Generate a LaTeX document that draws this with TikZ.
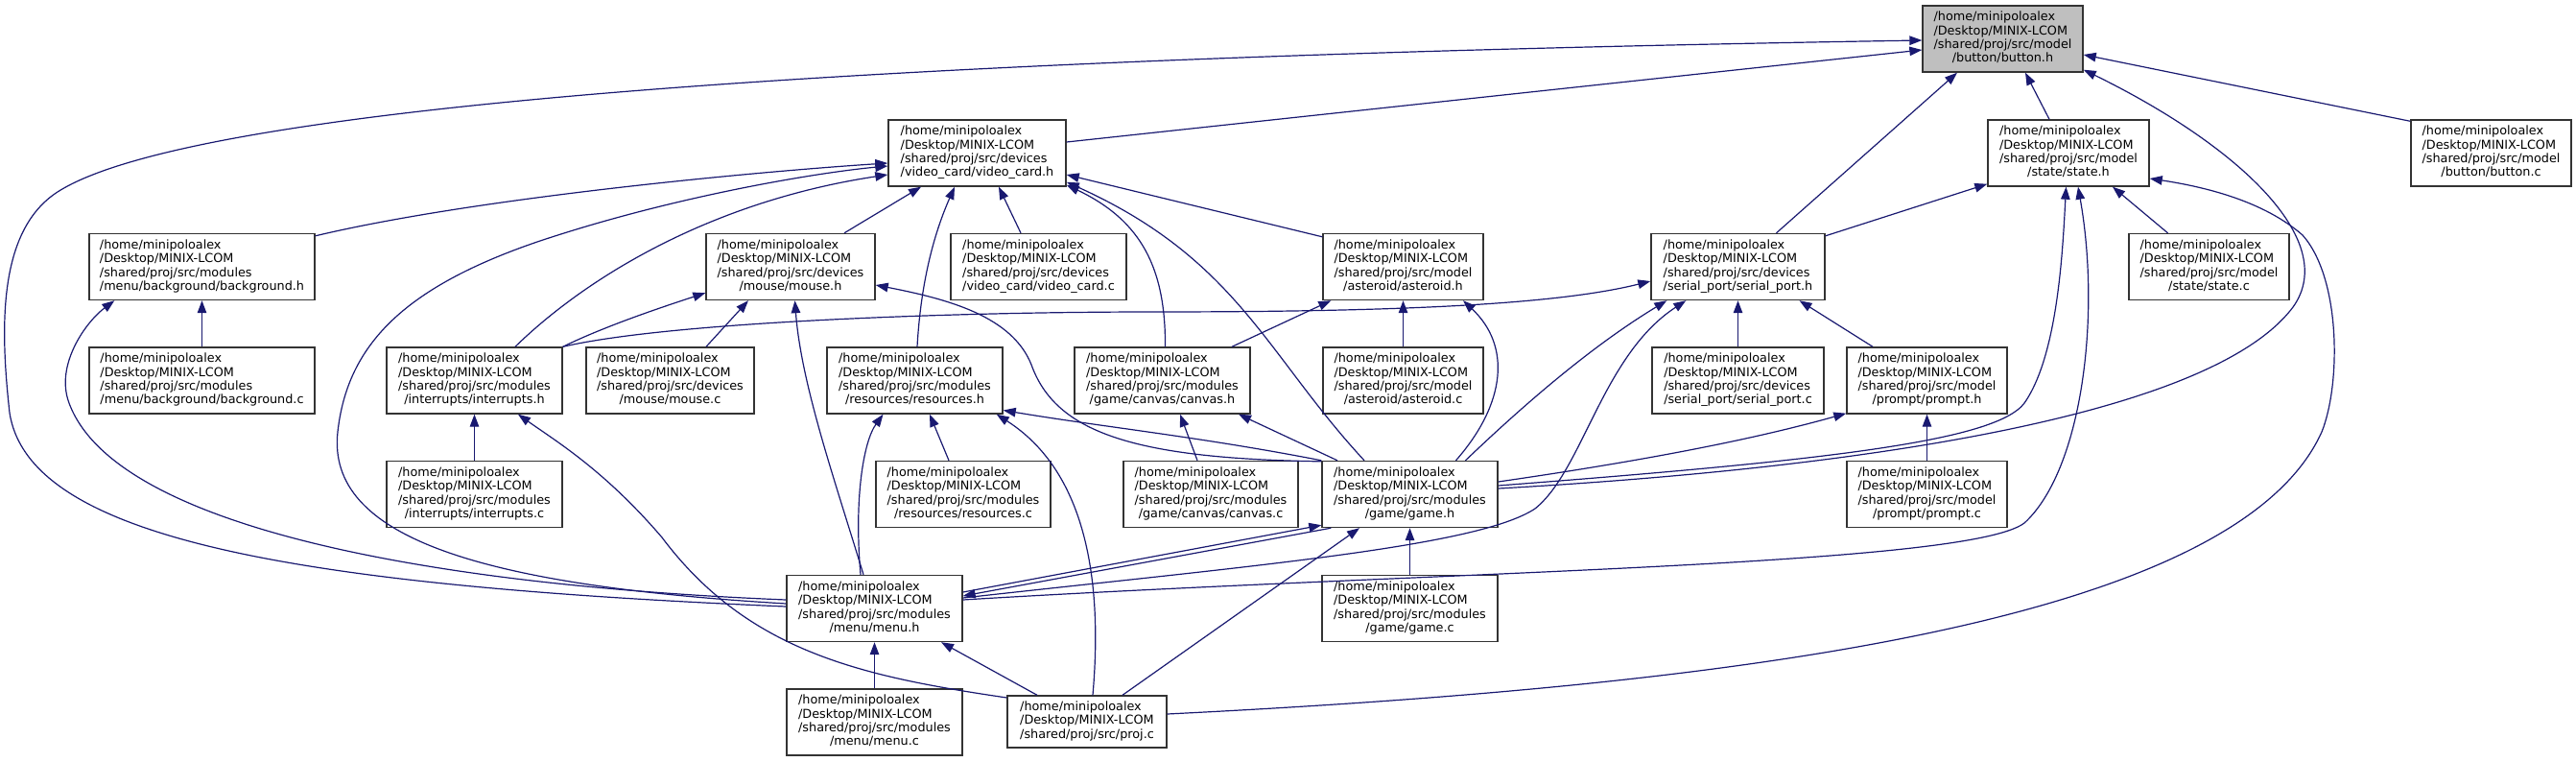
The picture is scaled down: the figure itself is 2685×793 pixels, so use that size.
\documentclass[tikz,border=0pt]{standalone}
\usepackage{fontspec}
\setmainfont{DejaVu Sans}
\usetikzlibrary{arrows.meta,calc}
\definecolor{edgec}{HTML}{191970}
\definecolor{rootfill}{HTML}{BFBFBF}
\definecolor{boxline}{HTML}{333333}
\newcommand\flab[2]{\begin{tabular}{@{}l@{}}/home/minipoloalex\\/Desktop/MINIX-LCOM\\#1\\\multicolumn{1}{@{}c@{}}{#2}\end{tabular}}
\newcommand\flabthree[1]{\begin{tabular}{@{}l@{}}/home/minipoloalex\\/Desktop/MINIX-LCOM\\#1\end{tabular}}
\begin{document}
\begin{tikzpicture}[x=1pt,y=-1pt,
  filebox/.style={draw=boxline, line width=1.4pt, fill=white, inner sep=0pt,
    minimum height=69pt, font=\fontsize{12.8}{14.3}\selectfont, text=black},
  rootbox/.style={filebox, fill=rootfill},
  edge/.style={draw=edgec, line width=1.2pt, -{Triangle[length=13pt,width=9.5pt]}}]
\useasboundingbox (0,0) rectangle (2685,793);
% row 1
\node[rootbox, minimum width=167pt] (bh) at (2087.5,40.5) {\flab{/shared/proj/src/model}{/button/button.h}};
% row 2
\node[filebox, minimum width=185pt] (vc) at (1018.5,159.5) {\flab{/shared/proj/src/devices}{/video\_card/video\_card.h}};
\node[filebox, minimum width=168pt] (st) at (2156,159.5) {\flab{/shared/proj/src/model}{/state/state.h}};
\node[filebox, minimum width=167pt] (bc) at (2596.5,159.5) {\flab{/shared/proj/src/model}{/button/button.c}};
% row 3
\node[filebox, minimum width=235pt] (bg) at (210.5,278) {\flab{/shared/proj/src/modules}{/menu/background/background.h}};
\node[filebox, minimum width=176pt] (ms) at (824,278) {\flab{/shared/proj/src/devices}{/mouse/mouse.h}};
\node[filebox, minimum width=183pt] (vcc) at (1082.5,278) {\flab{/shared/proj/src/devices}{/video\_card/video\_card.c}};
\node[filebox, minimum width=167pt] (ast) at (1462.5,278) {\flab{/shared/proj/src/model}{/asteroid/asteroid.h}};
\node[filebox, minimum width=181pt] (sp) at (1811.5,278) {\flab{/shared/proj/src/devices}{/serial\_port/serial\_port.h}};
\node[filebox, minimum width=167pt] (stc) at (2302.5,278) {\flab{/shared/proj/src/model}{/state/state.c}};
% row 4
\node[filebox, minimum width=235pt] (bgc) at (210.5,396.5) {\flab{/shared/proj/src/modules}{/menu/background/background.c}};
\node[filebox, minimum width=183pt] (ih) at (494.5,396.5) {\flab{/shared/proj/src/modules}{/interrupts/interrupts.h}};
\node[filebox, minimum width=175pt] (msc) at (698.5,396.5) {\flab{/shared/proj/src/devices}{/mouse/mouse.c}};
\node[filebox, minimum width=183pt] (rs) at (953.5,396.5) {\flab{/shared/proj/src/modules}{/resources/resources.h}};
\node[filebox, minimum width=183pt] (cv) at (1211.5,396.5) {\flab{/shared/proj/src/modules}{/game/canvas/canvas.h}};
\node[filebox, minimum width=167pt] (astc) at (1462.5,396.5) {\flab{/shared/proj/src/model}{/asteroid/asteroid.c}};
\node[filebox, minimum width=179pt] (spc) at (1811.5,396.5) {\flab{/shared/proj/src/devices}{/serial\_port/serial\_port.c}};
\node[filebox, minimum width=167pt] (pr) at (2008.5,396.5) {\flab{/shared/proj/src/model}{/prompt/prompt.h}};
% row 5
\node[filebox, minimum width=183pt] (ic) at (494.5,515) {\flab{/shared/proj/src/modules}{/interrupts/interrupts.c}};
\node[filebox, minimum width=182pt] (rsc) at (1004,515) {\flab{/shared/proj/src/modules}{/resources/resources.c}};
\node[filebox, minimum width=182pt] (cvc) at (1262,515) {\flab{/shared/proj/src/modules}{/game/canvas/canvas.c}};
\node[filebox, minimum width=183pt] (gh) at (1469.5,515) {\flab{/shared/proj/src/modules}{/game/game.h}};
\node[filebox, minimum width=167pt] (prc) at (2008.5,515) {\flab{/shared/proj/src/model}{/prompt/prompt.c}};
% row 6
\node[filebox, minimum width=183pt] (mh) at (911.5,634) {\flab{/shared/proj/src/modules}{/menu/menu.h}};
\node[filebox, minimum width=183pt] (ghc) at (1469.5,634) {\flab{/shared/proj/src/modules}{/game/game.c}};
% row 7
\node[filebox, minimum width=183pt] (mhc) at (911.5,752.5) {\flab{/shared/proj/src/modules}{/menu/menu.c}};
\node[filebox, minimum width=166pt, minimum height=54pt] (pj) at (1133,752) {\flabthree{/shared/proj/src/proj.c}};

% ---- edges into button.h
\draw[edge] ($(mh.west)+(0,-2)$) .. controls (300,610) and (30,560) .. (10,430)
  .. controls (0,340) and (-2,240) .. (60,200)
  .. controls (200,110) and (900,60) .. ($(bh.west)+(0,1.5)$);
\draw[edge] ($(vc.east)+(0,-11.5)$) -- ($(bh.west)+(0,11.5)$);
\draw[edge] ($(sp.north)+(40,0)$) -- ($(bh.south)+(-47.5,0)$);
\draw[edge] ($(st.north)+(-20,0)$) -- ($(bh.south)+(23.5,0)$);
\draw[edge] ($(gh.east)+(0,-6)$) .. controls (1900,490) and (2300,440) .. (2390,320)
  .. controls (2440,250) and (2330,150) .. ($(bh.south east)+(0,-3)$);
\draw[edge] ($(bc.north west)+(0,2)$) -- ($(bh.east)+(0,16.5)$);
% ---- edges into video_card.h
\draw[edge] ($(bg.north east)+(0,3)$) .. controls (500,205) and (800,178) .. ($(vc.west)+(0,10.5)$);
\draw[edge] ($(mh.west)+(0,-5)$) .. controls (500,610) and (340,560) .. (352,450)
  .. controls (362,360) and (420,300) .. (560,252)
  .. controls (700,205) and (850,180) .. ($(vc.west)+(0,13.5)$);
\draw[edge] ($(ih.north)+(42.5,0)$) .. controls (610,290) and (740,210) .. ($(vc.west)+(0,22.5)$);
\draw[edge] ($(ms.north)+(56,0)$) -- ($(vc.south)+(-58.5,0)$);
\draw[edge] ($(rs.north)+(2.5,0)$) .. controls (960,290) and (975,240) .. ($(vc.south)+(-23.5,0)$);
\draw[edge] ($(vcc.north)+(-18.5,0)$) -- ($(vc.south)+(22.5,0)$);
\draw[edge] ($(cv.north)+(3,0)$) .. controls (1215,280) and (1190,230) .. ($(vc.south east)+(0,-2)$);
\draw[edge] ($(gh.north)+(-47.5,0)$) .. controls (1320,370) and (1290,270) .. ($(vc.south east)+(0,-5)$);
\draw[edge] ($(ast.north west)+(0,4)$) -- ($(vc.east)+(0,22.5)$);
% ---- edges into state.h
\draw[edge] ($(sp.north east)+(0,3)$) -- ($(st.south west)+(0,-3)$);
\draw[edge] ($(gh.east)+(0,-9)$) .. controls (1900,480) and (2080,460) .. (2110,420)
  .. controls (2145,370) and (2150,260) .. ($(st.south)+(-2.5,0)$);
\draw[edge] ($(mh.east)+(0,-9)$) .. controls (1500,595) and (2050,590) .. (2110,545)
  .. controls (2170,490) and (2190,330) .. ($(st.south)+(10,0)$);
\draw[edge] ($(stc.north)+(-43,0)$) -- ($(st.south)+(46,0)$);
\draw[edge] ($(pj.east)+(0,-8)$) .. controls (1800,715) and (2330,650) .. (2420,450)
  .. controls (2440,400) and (2440,290) .. (2400,245)
  .. controls (2360,210) and (2300,195) .. ($(st.east)+(0,26.5)$);
% ---- background.h
\draw[edge] (bgc.north) -- (bg.south);
\draw[edge] ($(mh.west)+(0,-9)$) .. controls (450,610) and (120,550) .. (72,420)
  .. controls (57,380) and (90,335) .. ($(bg.south west)+(27,0)$);
% ---- mouse.h
\draw[edge] (ih.north east) .. controls (630,340) and (690,320) .. ($(ms.south west)+(0,-8)$);
\draw[edge] ($(msc.north)+(37.5,0)$) -- ($(ms.south)+(-44,0)$);
\draw[edge] ($(mh.north)+(-11.5,0)$) .. controls (870,500) and (835,400) .. ($(ms.south)+(4.5,0)$);
\draw[edge] ($(gh.north west)+(0,1)$) .. controls (1180,478) and (1100,450) .. (1075,380)
  .. controls (1055,330) and (990,312) .. ($(ms.east)+(0,19)$);
% ---- asteroid.h
\draw[edge] ($(cv.north)+(72.5,0)$) -- ($(ast.south west)+(9,0)$);
\draw[edge] (astc.north) -- (ast.south);
\draw[edge] ($(gh.north)+(48,0)$) .. controls (1570,420) and (1575,360) .. ($(ast.south)+(62.5,0)$);
% ---- serial_port.h
\draw[edge] (ih.north east) .. controls (700,335) and (1000,325) .. (1200,325)
  .. controls (1450,325) and (1620,318) .. ($(sp.west)+(0,15)$);
\draw[edge] (spc.north) -- (sp.south);
\draw[edge] ($(pr.north)+(-56.5,0)$) -- ($(sp.south)+(64,0)$);
\draw[edge] ($(gh.north)+(58,0)$) .. controls (1590,420) and (1660,360) .. ($(sp.south west)+(17,0)$);
\draw[edge] ($(mh.east)+(0,-11)$) .. controls (1300,590) and (1540,570) .. (1600,530)
  .. controls (1650,490) and (1670,370) .. ($(sp.south west)+(37,0)$);
% ---- interrupts.h
\draw[edge] (ic.north) -- (ih.south);
\draw[edge] ($(pj.west)+(0,-25)$) .. controls (900,705) and (780,680) .. (690,560)
  .. controls (630,490) and (580,460) .. ($(ih.south)+(45.5,0)$);
% ---- resources.h
\draw[edge] ($(rsc.north)+(-15,0)$) -- ($(rs.south)+(15.5,0)$);
\draw[edge] ($(mh.north)+(-14.5,0)$) .. controls (890,520) and (900,460) .. ($(rs.south)+(-33,0)$);
\draw[edge] ($(pj.north)+(6,0)$) .. controls (1150,600) and (1130,490) .. ($(rs.south east)+(-7,0)$);
\draw[edge] (gh.north west) .. controls (1250,455) and (1150,445) .. ($(rs.east)+(0,31)$);
% ---- canvas.h
\draw[edge] ($(cvc.north)+(-14,0)$) -- ($(cv.south)+(18.5,0)$);
\draw[edge] ($(gh.north)+(-75.5,0)$) -- ($(cv.south)+(79.5,0)$);
% ---- prompt.h
\draw[edge] (prc.north) -- (pr.south);
\draw[edge] ($(gh.east)+(0,-13)$) .. controls (1700,482) and (1820,460) .. ($(pr.south west)+(0,-1)$);
% ---- game.h
\draw[edge] (ghc.north) -- (gh.south);
\draw[edge] ($(mh.east)+(0,-17)$) -- ($(gh.south west)+(0,-3)$);
\draw[edge] ($(pj.north)+(37,0)$) -- ($(gh.south)+(-52.5,0)$);
% ---- menu.h
\draw[edge] (mhc.north) -- (mh.south);
\draw[edge] ($(gh.south west)+(10,0)$) -- ($(mh.east)+(0,-13)$);
\draw[edge] ($(pj.north)+(-52,0)$) -- ($(mh.south)+(69.5,0)$);
\end{tikzpicture}
\end{document}
